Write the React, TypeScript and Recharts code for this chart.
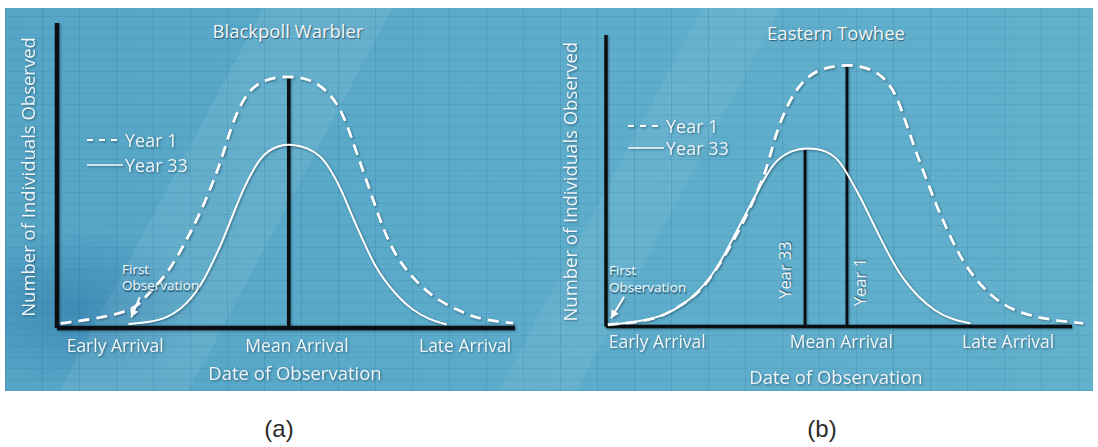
import React from "react";
import { ComposedChart, Line, XAxis, YAxis, ReferenceLine, Legend } from "recharts";

// x = date of observation (0 = y axis, 100 = end of x axis), y = individuals (0..100 = axis height)
const blackpollYear1: [number, number][] = [
  [0.8, 1.5], [7.3, 2.8], [13.4, 4.5], [17.5, 7], [19.5, 10.5], [21.8, 14], [24.8, 19.5],
  [28, 28], [30.9, 36.5], [33.6, 46], [35.9, 55], [37.8, 65], [40.1, 73.5], [42.4, 78.5],
  [45.4, 81.5], [50.4, 82.8], [55.5, 81.5], [58.8, 78], [61.5, 73], [63.5, 66], [65.3, 58],
  [67.2, 50], [69.5, 40], [71.6, 31], [74.4, 22.5], [78.2, 15.5], [82.8, 9.2], [88.9, 4.9],
  [92.7, 2.7], [99.6, 1.6],
];
const blackpollYear33: [number, number][] = [
  [15.6, 1.3], [20.2, 1.9], [24, 3.3], [27.1, 6.3], [29.4, 9.8], [31.7, 14.7], [34, 21.5],
  [36.3, 29], [38.5, 37.5], [40.8, 46], [43.1, 52.7], [45.4, 57.5], [48.5, 60], [51.5, 60.2],
  [54.6, 59.2], [57.6, 56.5], [59.9, 51.6], [62.2, 45.1], [64.5, 36.4], [66.8, 28.8],
  [69.1, 21.2], [71.4, 15.8], [74.4, 10.3], [77.5, 6], [81.3, 2.7], [85.1, 1.1],
];
const towheeYear1: [number, number][] = [
  [0.4, 0.6], [3, 0.9], [7.5, 1.7], [12, 3.4], [15, 6.3], [18, 9.1], [21.1, 13.7], [24.1, 20.6],
  [27.1, 28.6], [30.1, 37.7], [32.3, 45.7], [33.8, 51.4], [35, 57.1], [36.1, 64], [37.6, 70.9],
  [39.8, 78.9], [42.9, 85.5], [46.6, 88.8], [51.9, 90], [57.1, 88.5], [60.2, 84.6], [62.4, 78.9],
  [63.9, 72], [65.4, 65.1], [66.9, 58.3], [68.8, 50.3], [70.7, 42.3], [72.9, 34.3], [75.2, 26.3],
  [78.2, 18.3], [82, 11.4], [85.7, 6.9], [90.2, 4], [94.7, 2.5], [99.2, 1.6], [102.4, 1.1],
];
const towheeYear33: [number, number][] = [
  [0.4, 0.6], [7.5, 1.7], [12.8, 4], [16.5, 7.4], [19.5, 11.4], [22.6, 17.1], [25.6, 25.1],
  [27.8, 32], [30.1, 38.9], [32.3, 45.7], [34.6, 52.6], [36.8, 57.5], [39.8, 60.4], [42.9, 61.4],
  [47.4, 60.5], [50.4, 56.5], [52.6, 50], [54.9, 43.5], [57.1, 36], [59.4, 28.6], [61.7, 21.7],
  [63.9, 16], [66.9, 10.3], [70.7, 5.1], [74.4, 2.3], [78.2, 1.1],
];

// mean arrival markers: [x, height]
const blackpollMean: [number, number] = [50.6, 81.8];
const towheeMean1: [number, number] = [51.7, 89];
const towheeMean33: [number, number] = [42.7, 60.6];

const arrivalLabels = ["Early Arrival", "Mean Arrival", "Late Arrival"];
const blackpollTicks = [12.7, 52.4, 89.1];
const towheeTicks = [11, 50.5, 86.3];

// first observation arrows: [fromX, fromY, toX, toY]
const blackpollArrow = [18.1, 10.1, 16.2, 3.5];
const towheeArrow = [3.9, 10.2, 1.1, 2.8];

const FONT = '"Open Sans", "Noto Sans", sans-serif';
const TEXT = "#f1f6f8";
const SHADOW = "1px 1.5px 1px rgba(10,40,60,0.6)";

const toPoints = (arr: [number, number][]) => arr.map(([x, y]) => ({ x, y }));

const ArrowShape = (props: any) => {
  const { x1, y1, x2, y2 } = props;
  const a = Math.atan2(y2 - y1, x2 - x1);
  const h = 9;
  const p1 = [x2 - h * Math.cos(a - 0.5), y2 - h * Math.sin(a - 0.5)];
  const p2 = [x2 - h * Math.cos(a + 0.5), y2 - h * Math.sin(a + 0.5)];
  return (
    <g>
      <line x1={x1} y1={y1} x2={x2} y2={y2} stroke="#fff" strokeWidth={2} />
      <polygon points={`${x2},${y2} ${p1[0]},${p1[1]} ${p2[0]},${p2[1]}`} fill="#fff" />
    </g>
  );
};

type PanelCfg = {
  left: number;
  margin: { top: number; right: number; bottom: number; left: number };
  xMax: number;
  ticks: number[];
  tickDy: number;
  titleX: number;
  titleDy: number;
  yLabelX: number;
  yLabelDy: number;
  axisWidth: number;
  year1: [number, number][];
  year33: [number, number][];
  arrow: number[];
  legend: { left: number; top: number; rowH: number };
  means: { pos: [number, number]; width: number }[];
};

function Panel({ cfg }: { cfg: PanelCfg }) {
  const [ax1, ay1, ax2, ay2] = cfg.arrow;
  return (
    <div style={{ position: "absolute", left: cfg.left, top: 0, filter: "drop-shadow(1px 1.5px 1px rgba(10,40,60,0.5))" }}>
      <ComposedChart width={549} height={400} margin={cfg.margin}>
        <XAxis
          type="number"
          dataKey="x"
          domain={[0, cfg.xMax]}
          allowDataOverflow
          ticks={cfg.ticks}
          interval={0}
          height={1}
          tickSize={0}
          tickMargin={0}
          axisLine={false}
          tickLine={false}
          tick={(p: any) => (
            <text x={p.x} y={p.y + cfg.tickDy} textAnchor="middle" dominantBaseline="central" fill={TEXT} fontSize={17.5} fontFamily={FONT}>
              {arrivalLabels[p.index]}
            </text>
          )}
          label={{
            content: (p: any) => (
              <text x={cfg.titleX} y={p.viewBox.y + cfg.titleDy} textAnchor="middle" dominantBaseline="central" fill={TEXT} fontSize={18.5} fontFamily={FONT}>
                Date of Observation
              </text>
            ),
          }}
        />
        <YAxis
          type="number"
          domain={[0, 100]}
          allowDataOverflow
          width={1}
          tick={false}
          axisLine={false}
          tickLine={false}
          label={{
            content: (p: any) => {
              const cy = p.viewBox.y + p.viewBox.height / 2 + cfg.yLabelDy;
              return (
                <text x={cfg.yLabelX} y={cy} transform={`rotate(-90 ${cfg.yLabelX} ${cy})`} textAnchor="middle" dominantBaseline="central" fill={TEXT} fontSize={18.5} fontFamily={FONT}>
                  Number of Individuals Observed
                </text>
              );
            },
          }}
        />
        <ReferenceLine segment={[{ x: 0, y: 0 }, { x: 0, y: 100 }]} stroke="#0c0f12" strokeWidth={cfg.axisWidth} />
        <ReferenceLine segment={[{ x: 0, y: 0 }, { x: 100, y: 0 }]} stroke="#0c0f12" strokeWidth={cfg.axisWidth} />
        {cfg.means.map((m, i) => (
          <ReferenceLine key={i} segment={[{ x: m.pos[0], y: 0 }, { x: m.pos[0], y: m.pos[1] }]} stroke="#0c0f12" strokeWidth={m.width} />
        ))}
        <ReferenceLine segment={[{ x: ax1, y: ay1 }, { x: ax2, y: ay2 }]} shape={ArrowShape} />
        <Line data={toPoints(cfg.year1)} dataKey="y" name="Year 1" type="basis" stroke="#ffffff" strokeWidth={2.8} strokeDasharray="11 7" dot={false} activeDot={false} isAnimationActive={false} />
        <Line data={toPoints(cfg.year33)} dataKey="y" name="Year 33" type="basis" stroke="#ffffff" strokeWidth={2} dot={false} activeDot={false} isAnimationActive={false} />
        <Legend
          layout="vertical"
          align="center"
          verticalAlign="middle"
          wrapperStyle={{ left: cfg.legend.left, top: cfg.legend.top, width: 140 }}
          content={() => (
            <div style={{ fontFamily: FONT }}>
              {["Year 1", "Year 33"].map((name, i) => (
                <div key={name} style={{ display: "flex", alignItems: "center", height: cfg.legend.rowH }}>
                  <svg width={36} height={10} style={{ marginRight: 2 }}>
                    <line x1={0} y1={5} x2={i === 0 ? 32 : 36} y2={5} stroke="#fff" strokeWidth={i === 0 ? 2 : 1.5} strokeDasharray={i === 0 ? "6 6" : undefined} />
                  </svg>
                  <span style={{ color: TEXT, fontSize: 18 }}>{name}</span>
                </div>
              ))}
            </div>
          )}
        />
      </ComposedChart>
    </div>
  );
}

const panelA: PanelCfg = {
  left: 0,
  margin: { top: 23, right: 34, bottom: 71, left: 56 },
  xMax: 100,
  ticks: blackpollTicks,
  tickDy: 17.3,
  titleX: 295,
  titleDy: 44,
  yLabelX: 27,
  yLabelDy: 1.5,
  axisWidth: 4.5,
  year1: blackpollYear1,
  year33: blackpollYear33,
  arrow: blackpollArrow,
  legend: { left: 87, top: 127, rowH: 25 },
  means: [{ pos: blackpollMean, width: 3.5 }],
};

const panelB: PanelCfg = {
  left: 549,
  margin: { top: 35, right: 12, bottom: 72.5, left: 56 },
  xMax: 103,
  ticks: towheeTicks,
  tickDy: 14.2,
  titleX: 287,
  titleDy: 50,
  yLabelX: 20,
  yLabelDy: 1,
  axisWidth: 3.5,
  year1: towheeYear1,
  year33: towheeYear33,
  arrow: towheeArrow,
  legend: { left: 79, top: 115, rowH: 22.3 },
  means: [
    { pos: towheeMean33, width: 2.8 },
    { pos: towheeMean1, width: 2.8 },
  ],
};

const textStyle: React.CSSProperties = {
  position: "absolute",
  color: TEXT,
  fontFamily: FONT,
  textShadow: SHADOW,
  whiteSpace: "nowrap",
  lineHeight: 1,
};

export default function App() {
  return (
    <div style={{ position: "absolute", left: 0, top: 0, width: 1098, height: 447, background: "#fff", overflow: "hidden" }}>
      <div
        style={{
          position: "absolute",
          left: 5,
          top: 8,
          width: 1088,
          height: 383,
          background: [
            "repeating-linear-gradient(90deg, rgba(30,100,140,0.2) 0 1px, transparent 1px 37px)",
            "repeating-linear-gradient(0deg, rgba(30,100,140,0.13) 0 1px, transparent 1px 11px)",
            "linear-gradient(118deg, transparent 0 20%, rgba(255,255,255,0.07) 20% 30%, transparent 30% 54%, rgba(255,255,255,0.06) 54% 60%, transparent 60%)",
            "radial-gradient(ellipse 130px 80px at 70px 300px, rgba(30,100,155,0.4), transparent)",
            "linear-gradient(90deg, #55a5c6, #5daccb 50%, #62b0cc)",
          ].join(","),
        }}
      />
      <Panel cfg={panelA} />
      <Panel cfg={panelB} />

      <div style={{ ...textStyle, left: 288, top: 31, fontSize: 18.5, transform: "translate(-50%, -50%)" }}>Blackpoll Warbler</div>
      <div style={{ ...textStyle, left: 836, top: 33, fontSize: 18.5, transform: "translate(-50%, -50%)" }}>Eastern Towhee</div>

      <div style={{ ...textStyle, left: 122, top: 261, fontSize: 13.5, lineHeight: "16px" }}>First<br />Observation</div>
      <div style={{ ...textStyle, left: 609, top: 262, fontSize: 13.5, lineHeight: "17px" }}>First<br />Observation</div>

      <div style={{ ...textStyle, left: 785, top: 270, fontSize: 16.5, transform: "translate(-50%, -50%) rotate(-90deg)" }}>Year 33</div>
      <div style={{ ...textStyle, left: 860, top: 282, fontSize: 16.5, transform: "translate(-50%, -50%) rotate(-90deg)" }}>Year 1</div>

      <div style={{ position: "absolute", left: 279, top: 429, transform: "translate(-50%, -50%)", fontFamily: '"Liberation Sans", Arial, sans-serif', fontSize: 24, color: "#2b2b2b" }}>(a)</div>
      <div style={{ position: "absolute", left: 822, top: 429, transform: "translate(-50%, -50%)", fontFamily: '"Liberation Sans", Arial, sans-serif', fontSize: 24, color: "#2b2b2b" }}>(b)</div>
    </div>
  );
}
